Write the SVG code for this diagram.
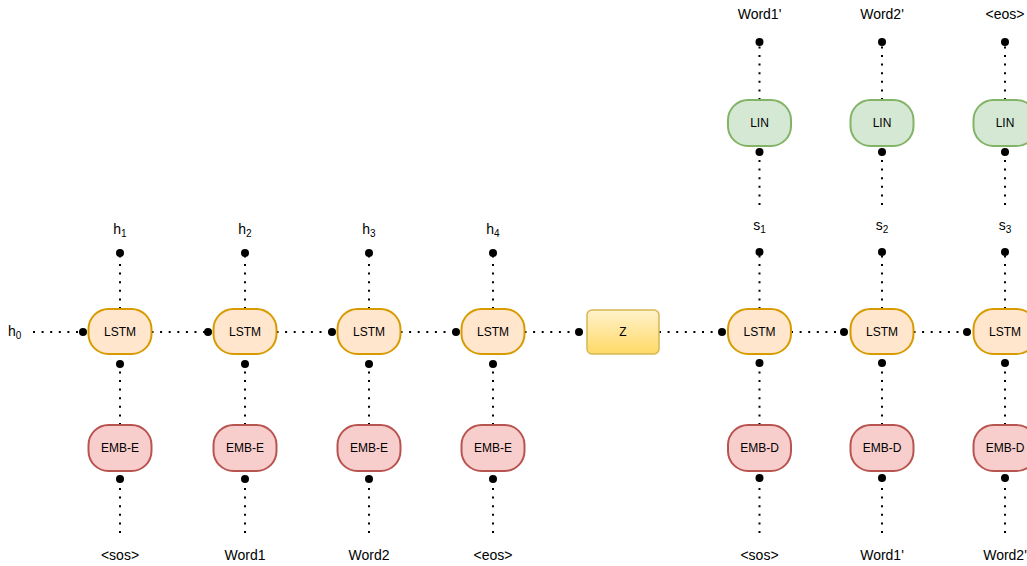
<svg xmlns="http://www.w3.org/2000/svg" width="1027" height="566" viewBox="0 0 1027 566">
<style>
  text{font-family:"Liberation Sans",Arial,sans-serif;fill:#000}
  .lbl{font-size:14px;text-anchor:middle}
  .bt{font-size:12px;text-anchor:middle}
  .lstm{fill:#ffe6cc;stroke:#d79b00;stroke-width:2}
  .emb{fill:#f8cecc;stroke:#b85450;stroke-width:2}
  .lin{fill:#d5e8d4;stroke:#82b366;stroke-width:2}
  .z{fill:url(#zg);stroke:#d6b656;stroke-width:1.5}
  .c line{stroke:#000;stroke-width:2;stroke-dasharray:2 6.6;fill:none}
  .c circle{fill:#000}
</style>
<defs>
  <linearGradient id="zg" x1="0" y1="0" x2="0" y2="1">
    <stop offset="0" stop-color="#fff2cc"/>
    <stop offset="1" stop-color="#ffd966"/>
  </linearGradient>
</defs>
<rect width="1027" height="566" fill="#fff"/>

<g id="connectors" class="c">
  <!-- horizontal chain -->
  <line x1="33" y1="332" x2="83" y2="332"/><circle cx="83" cy="332" r="4"/>
  <line x1="151.5" y1="332" x2="208" y2="332"/><circle cx="208" cy="332" r="4"/>
  <line x1="276.5" y1="332" x2="332" y2="332"/><circle cx="332" cy="332" r="4"/>
  <line x1="400.5" y1="332" x2="456" y2="332"/><circle cx="456" cy="332" r="4"/>
  <line x1="524.5" y1="332" x2="579" y2="332"/><circle cx="579" cy="332" r="4"/>
  <line x1="659" y1="332" x2="722" y2="332"/><circle cx="722" cy="332" r="4"/>
  <line x1="791" y1="332" x2="844" y2="332"/><circle cx="844" cy="332" r="4"/>
  <line x1="913.5" y1="332" x2="967" y2="332"/><circle cx="967" cy="332" r="4"/>
  <!-- encoder verticals -->
  <line x1="120" y1="309" x2="120" y2="253"/><circle cx="120" cy="253" r="4"/>
  <line x1="120" y1="425" x2="120" y2="364"/><circle cx="120" cy="364" r="4"/>
  <line x1="120" y1="533" x2="120" y2="479"/><circle cx="120" cy="479" r="4"/>
  <line x1="245" y1="309" x2="245" y2="253"/><circle cx="245" cy="253" r="4"/>
  <line x1="245" y1="425" x2="245" y2="364"/><circle cx="245" cy="364" r="4"/>
  <line x1="245" y1="533" x2="245" y2="479"/><circle cx="245" cy="479" r="4"/>
  <line x1="369" y1="309" x2="369" y2="253"/><circle cx="369" cy="253" r="4"/>
  <line x1="369" y1="425" x2="369" y2="364"/><circle cx="369" cy="364" r="4"/>
  <line x1="369" y1="533" x2="369" y2="479"/><circle cx="369" cy="479" r="4"/>
  <line x1="493" y1="309" x2="493" y2="253"/><circle cx="493" cy="253" r="4"/>
  <line x1="493" y1="425" x2="493" y2="364"/><circle cx="493" cy="364" r="4"/>
  <line x1="493" y1="533" x2="493" y2="479"/><circle cx="493" cy="479" r="4"/>
  <!-- decoder verticals -->
  <line x1="759.5" y1="100" x2="759.5" y2="42"/><circle cx="759.5" cy="42" r="4"/>
  <line x1="759.5" y1="205" x2="759.5" y2="152"/><circle cx="759.5" cy="152" r="4"/>
  <line x1="759.5" y1="309" x2="759.5" y2="252"/><circle cx="759.5" cy="252" r="4"/>
  <line x1="759.5" y1="425" x2="759.5" y2="363"/><circle cx="759.5" cy="363" r="4"/>
  <line x1="759.5" y1="533" x2="759.5" y2="478"/><circle cx="759.5" cy="478" r="4"/>
  <line x1="882" y1="100" x2="882" y2="42"/><circle cx="882" cy="42" r="4"/>
  <line x1="882" y1="205" x2="882" y2="152"/><circle cx="882" cy="152" r="4"/>
  <line x1="882" y1="309" x2="882" y2="252"/><circle cx="882" cy="252" r="4"/>
  <line x1="882" y1="425" x2="882" y2="363"/><circle cx="882" cy="363" r="4"/>
  <line x1="882" y1="533" x2="882" y2="478"/><circle cx="882" cy="478" r="4"/>
  <line x1="1005" y1="100" x2="1005" y2="42"/><circle cx="1005" cy="42" r="4"/>
  <line x1="1005" y1="205" x2="1005" y2="152"/><circle cx="1005" cy="152" r="4"/>
  <line x1="1005" y1="309" x2="1005" y2="252"/><circle cx="1005" cy="252" r="4"/>
  <line x1="1005" y1="425" x2="1005" y2="363"/><circle cx="1005" cy="363" r="4"/>
  <line x1="1005" y1="533" x2="1005" y2="478"/><circle cx="1005" cy="478" r="4"/>
</g>

<!-- encoder -->
<g id="h0"><text x="8" y="336" style="font-size:14px">h<tspan font-size="10" dy="3">0</tspan></text></g>
<g id="lstm-e1"><rect class="lstm" x="88.5" y="309" width="63" height="45" rx="20"/><text class="bt" x="120" y="336">LSTM</text></g>
<g id="lstm-e2"><rect class="lstm" x="213.5" y="309" width="63" height="45" rx="20"/><text class="bt" x="245" y="336">LSTM</text></g>
<g id="lstm-e3"><rect class="lstm" x="337.5" y="309" width="63" height="45" rx="20"/><text class="bt" x="369" y="336">LSTM</text></g>
<g id="lstm-e4"><rect class="lstm" x="461.5" y="309" width="63" height="45" rx="20"/><text class="bt" x="493" y="336">LSTM</text></g>
<g id="emb-e1"><rect class="emb" x="88.5" y="425" width="63" height="46" rx="20"/><text class="bt" x="120" y="452">EMB-E</text></g>
<g id="emb-e2"><rect class="emb" x="213.5" y="425" width="63" height="46" rx="20"/><text class="bt" x="245" y="452">EMB-E</text></g>
<g id="emb-e3"><rect class="emb" x="337.5" y="425" width="63" height="46" rx="20"/><text class="bt" x="369" y="452">EMB-E</text></g>
<g id="emb-e4"><rect class="emb" x="461.5" y="425" width="63" height="46" rx="20"/><text class="bt" x="493" y="452">EMB-E</text></g>
<g id="h1"><text class="lbl" x="120" y="234">h<tspan font-size="10" dy="3">1</tspan></text></g>
<g id="h2"><text class="lbl" x="245" y="234">h<tspan font-size="10" dy="3">2</tspan></text></g>
<g id="h3"><text class="lbl" x="369" y="234">h<tspan font-size="10" dy="3">3</tspan></text></g>
<g id="h4"><text class="lbl" x="493" y="234">h<tspan font-size="10" dy="3">4</tspan></text></g>
<g id="in-e1"><text class="lbl" x="120" y="560">&lt;sos&gt;</text></g>
<g id="in-e2"><text class="lbl" x="245" y="560">Word1</text></g>
<g id="in-e3"><text class="lbl" x="369" y="560">Word2</text></g>
<g id="in-e4"><text class="lbl" x="493" y="560">&lt;eos&gt;</text></g>

<!-- latent -->
<g id="z"><rect class="z" x="587" y="310" width="72" height="44" rx="5"/><text class="bt" x="623" y="336">Z</text></g>

<!-- decoder -->
<g id="lstm-d1"><rect class="lstm" x="728" y="309" width="63" height="45" rx="20"/><text class="bt" x="759.5" y="336">LSTM</text></g>
<g id="lstm-d2"><rect class="lstm" x="850.5" y="309" width="63" height="45" rx="20"/><text class="bt" x="882" y="336">LSTM</text></g>
<g id="lstm-d3"><rect class="lstm" x="973.5" y="309" width="63" height="45" rx="20"/><text class="bt" x="1005" y="336">LSTM</text></g>
<g id="emb-d1"><rect class="emb" x="728" y="425" width="63" height="46" rx="20"/><text class="bt" x="759.5" y="452">EMB-D</text></g>
<g id="emb-d2"><rect class="emb" x="850.5" y="425" width="63" height="46" rx="20"/><text class="bt" x="882" y="452">EMB-D</text></g>
<g id="emb-d3"><rect class="emb" x="973.5" y="425" width="63" height="46" rx="20"/><text class="bt" x="1005" y="452">EMB-D</text></g>
<g id="lin-1"><rect class="lin" x="728" y="100" width="63" height="46" rx="20"/><text class="bt" x="759.5" y="127">LIN</text></g>
<g id="lin-2"><rect class="lin" x="850.5" y="100" width="63" height="46" rx="20"/><text class="bt" x="882" y="127">LIN</text></g>
<g id="lin-3"><rect class="lin" x="973.5" y="100" width="63" height="46" rx="20"/><text class="bt" x="1005" y="127">LIN</text></g>
<g id="s1"><text class="lbl" x="759.5" y="230">s<tspan font-size="10" dy="3">1</tspan></text></g>
<g id="s2"><text class="lbl" x="882" y="230">s<tspan font-size="10" dy="3">2</tspan></text></g>
<g id="s3"><text class="lbl" x="1005" y="230">s<tspan font-size="10" dy="3">3</tspan></text></g>
<g id="out-1"><text class="lbl" x="759.5" y="19">Word1'</text></g>
<g id="out-2"><text class="lbl" x="882" y="19">Word2'</text></g>
<g id="out-3"><text class="lbl" x="1005" y="19">&lt;eos&gt;</text></g>
<g id="in-d1"><text class="lbl" x="759.5" y="560">&lt;sos&gt;</text></g>
<g id="in-d2"><text class="lbl" x="882" y="560">Word1'</text></g>
<g id="in-d3"><text class="lbl" x="1005" y="560">Word2'</text></g>
</svg>
